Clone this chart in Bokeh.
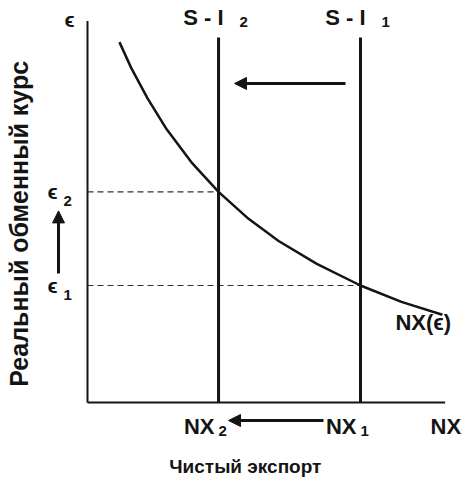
from math import pi
from bokeh.plotting import figure
from bokeh.models import Range1d, Arrow, NormalHead
from bokeh.core.properties import value
from bokeh.embed import file_html
from bokeh.resources import INLINE

# ---------------- data (economic units) ----------------
nx_levels = [10.0, 4.8]          # NX1, NX2  (S - I1, S - I2)
nx_subs = ["1", "2"]
eps_levels = [1.0, 1.8]          # eps1, eps2
eps_subs = ["1", "2"]
curve_x = [1.17, 1.6, 2.2, 2.9, 3.8, 4.8, 5.9, 7.0, 8.4, 10.0, 11.5, 13.0]
curve_y = [3.08, 2.86, 2.60, 2.335, 2.055, 1.80, 1.57, 1.38, 1.185, 1.0, 0.86, 0.75]
axis_x_max = 13.1
axis_y_max = 3.26
si_top = 3.12

y_title = "Реальный обменный курс"
x_title = "Чистый экспорт"
EPS = "\u03f5"

# ---------------- figure ----------------
W, H = 470, 480
PX = 27.3    # px per NX unit
PY = 117.0   # px per eps unit
X0 = -87 / PX
X1 = X0 + W / PX
Y0 = -(H - 402) / PY
Y1 = Y0 + H / PY


def dx(px):
    return px / PX


def dy(px):
    return px / PY


p = figure(width=W, height=H, output_backend="svg", toolbar_location=None,
           x_range=Range1d(X0, X1), y_range=Range1d(Y0, Y1), min_border=0,
           background_fill_color="white", border_fill_color="white")
p.axis.visible = False
p.grid.visible = False
p.outline_line_color = None

INK = "#141414"
FONT = value("Liberation Sans")

# axes
p.segment(x0=[0, 0], y0=[0, 0], x1=[0, axis_x_max], y1=[axis_y_max, 0],
          line_color=INK, line_width=2)
# dashed guides
p.segment(x0=[0] * len(eps_levels), y0=eps_levels, x1=nx_levels, y1=eps_levels,
          line_color="#333333", line_width=1.2, line_dash="6 4")
# S - I vertical lines
p.segment(x0=nx_levels, y0=[0, 0], x1=nx_levels, y1=[si_top, si_top],
          line_color=INK, line_width=3)
# NX(eps) curve
p.line(curve_x, curve_y, line_color=INK, line_width=2.5, line_join="round")


# arrows
def arrow(xs, ys, xe, ye):
    p.add_layout(Arrow(end=NormalHead(size=12, fill_color=INK, line_color=INK, line_width=1),
                       x_start=xs, y_start=ys, x_end=xe, y_end=ye,
                       line_color=INK, line_width=3))


nx1, nx2 = nx_levels
e1, e2 = eps_levels
arrow(nx1 - dx(15), si_top - dy(46), nx2 + dx(16), si_top - dy(46))
arrow(nx1 - dx(37), -dy(18), nx2 + dx(10), -dy(18))
arrow(-dx(29), e1 + dy(12), -dx(29), e2 - dy(19))


def txt(x, y, s, size, align="left", baseline="alphabetic", angle=0.0):
    p.text(x=[x], y=[y], text=[s], text_font=FONT, text_font_size=f"{size}px",
           text_font_style="bold", text_color=INK,
           text_align=align, text_baseline=baseline, angle=angle)


# axis labels
txt(-dx(18), axis_y_max + dy(2), EPS, 21, align="center")
txt(axis_x_max + dx(16), -dy(24), "NX", 22, align="right")
txt(-dx(69), axis_y_max / 2 - dy(12), y_title, 25, align="center", baseline="middle", angle=pi / 2)
txt(axis_x_max / 2 - dx(21), -dy(64), x_title, 19, align="center")

# S - I labels and NX labels
for nx, sub in zip(nx_levels, nx_subs):
    txt(nx + dx(5), si_top + dy(20), "S - I", 22, align="right")
    txt(nx + dx(21), si_top + dy(15), sub, 15)
    txt(nx - dx(4), -dy(24), "NX", 22, align="right")
    txt(nx + dx(0), -dy(28), sub, 15)

# eps labels
for e, sub in zip(eps_levels, eps_subs):
    txt(-dx(35), e + dy(0), EPS, 21, align="center")
    txt(-dx(24), e - dy(9), sub, 15)

# curve label
txt(curve_x[-1] - dx(47), curve_y[-1] - dy(8), "NX(" + EPS + ")", 22)

open("out.html", "w").write(file_html(p, INLINE))
